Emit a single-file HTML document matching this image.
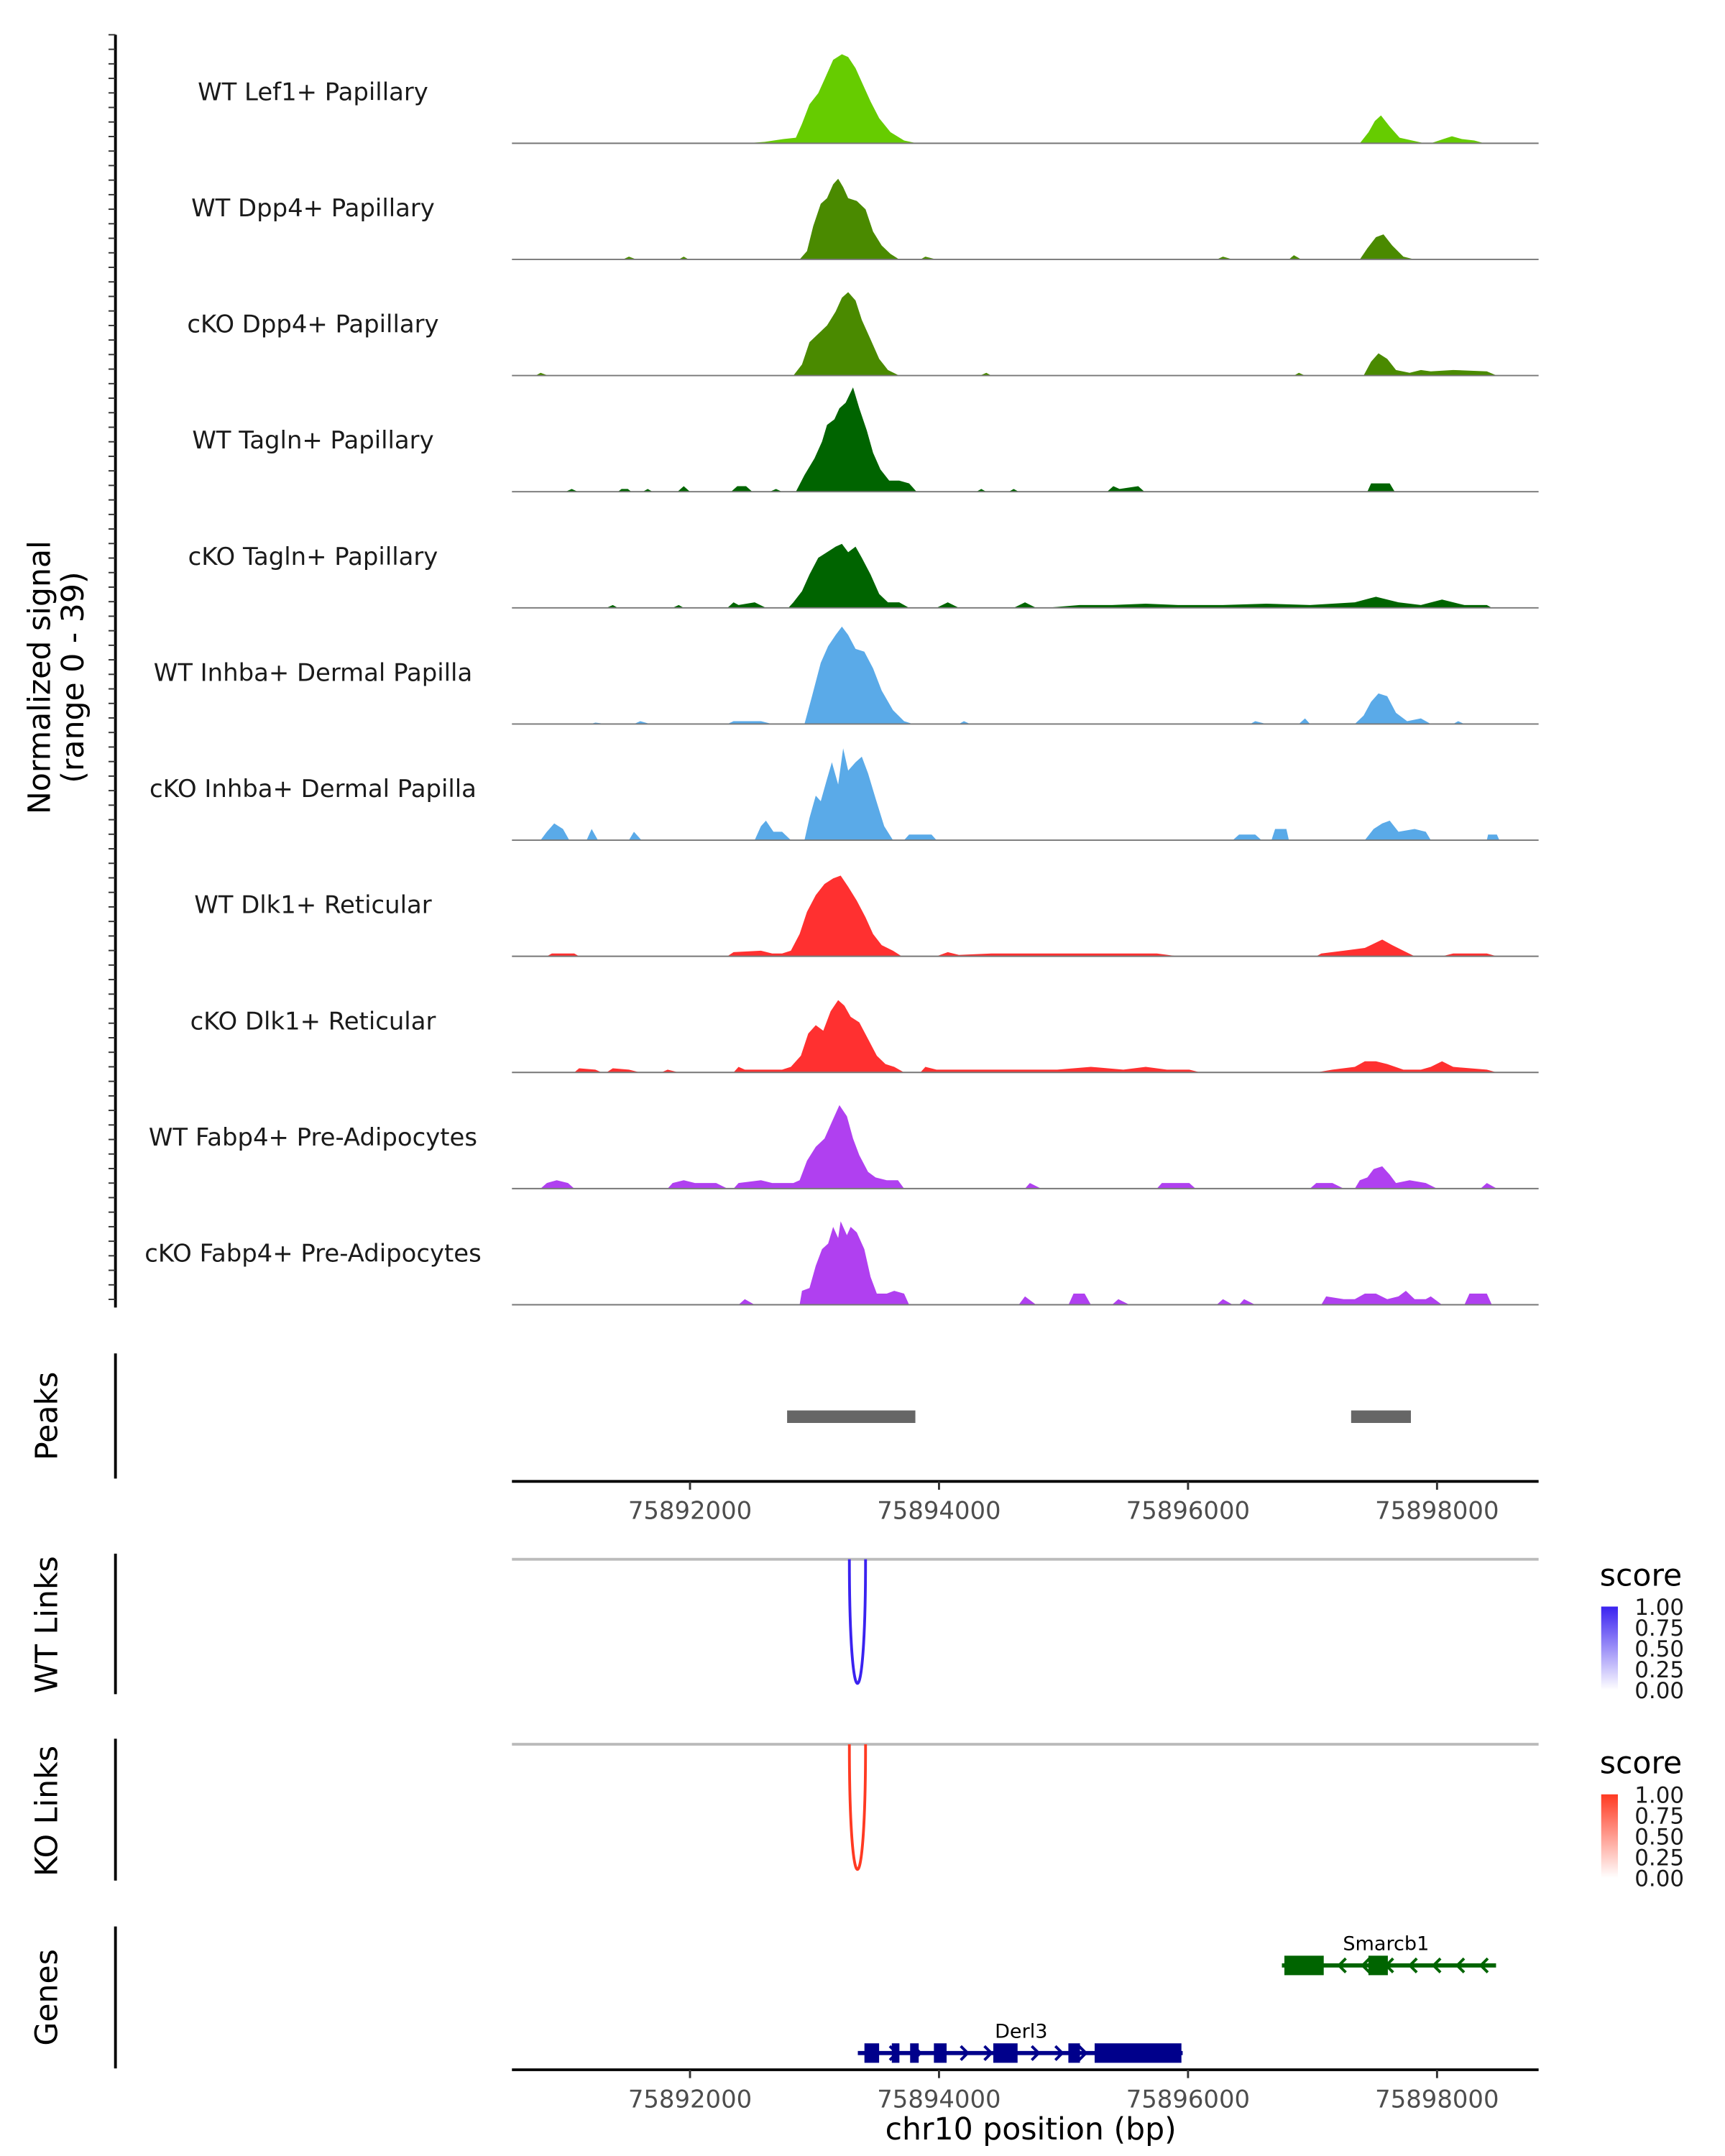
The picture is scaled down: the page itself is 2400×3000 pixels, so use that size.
<!DOCTYPE html>
<html><head><meta charset="utf-8"><style>
html,body{margin:0;padding:0;background:#fff;}
svg{display:block;font-family:"DejaVu Sans","Liberation Sans",sans-serif;}
</style></head><body>
<svg id="chart" width="2400" height="3000" viewBox="0 0 1240 1550" xmlns="http://www.w3.org/2000/svg">
<rect width="1240" height="1550" fill="#fff"/>
<g id="tracks"></g>
<g id="rest"></g>
</svg>
<script>
// genomic positions as kb offset from 75890000
const trackLabels = ["WT Lef1+ Papillary","WT Dpp4+ Papillary","cKO Dpp4+ Papillary","WT Tagln+ Papillary","cKO Tagln+ Papillary","WT Inhba+ Dermal Papilla","cKO Inhba+ Dermal Papilla","WT Dlk1+ Reticular","cKO Dlk1+ Reticular","WT Fabp4+ Pre-Adipocytes","cKO Fabp4+ Pre-Adipocytes"];
const trackColors = ["#66cc00","#4a8a00","#4a8a00","#006400","#006400","#5aaae8","#5aaae8","#ff3030","#ff3030","#b040f0","#b040f0"];
const sig0 = [[2.45,0],[2.6,0.5],[2.75,1.5],[2.85,2],[2.9,7],[2.96,14],[3.03,18],[3.08,23],[3.15,30],[3.22,32],[3.27,31],[3.33,27],[3.38,22],[3.45,15],[3.52,9],[3.61,4],[3.72,1],[3.82,0],[7.38,0],[7.45,4],[7.5,8],[7.55,10],[7.62,6],[7.7,2],[7.8,1],[7.9,0],[7.95,0],[8.05,1.5],[8.12,2.5],[8.2,1.5],[8.3,1],[8.38,0]];
const sig1 = [[1.46,0],[1.51,1],[1.57,0],[1.91,0],[1.95,1],[1.99,0],[2.88,0],[2.94,3],[2.99,12],[3.05,20],[3.10,22],[3.15,27],[3.19,29],[3.23,26],[3.27,22],[3.34,21],[3.41,18],[3.47,10],[3.54,5],[3.61,2],[3.68,0],[3.85,0],[3.89,1],[3.98,0],[6.23,0],[6.28,1],[6.36,0],[6.81,0],[6.85,1.5],[6.91,0],[7.38,0],[7.44,4],[7.51,8],[7.57,9],[7.64,5],[7.73,1],[7.82,0]];
const sig2 = [[0.76,0],[0.80,1],[0.86,0],[2.83,0],[2.90,4],[2.96,12],[3.03,15],[3.10,18],[3.17,23],[3.22,28],[3.27,30],[3.33,27],[3.38,20],[3.45,13],[3.52,6],[3.59,2],[3.68,0],[4.33,0],[4.38,1],[4.42,0],[6.85,0],[6.89,1],[6.94,0],[7.41,0],[7.47,5],[7.53,8],[7.60,6],[7.67,2],[7.78,1],[7.87,2],[7.95,1.5],[8.13,2],[8.40,1.5],[8.48,0]];
const sig3 = [[1.0,0],[1.05,1],[1.1,0],[1.42,0],[1.45,1],[1.5,1],[1.53,0],[1.62,0],[1.66,1],[1.7,0],[1.9,0],[1.95,2],[2.0,0],[2.33,0],[2.38,2],[2.45,2],[2.5,0],[2.64,0],[2.69,1],[2.74,0],[2.85,0],[2.92,6],[3.0,12],[3.06,18],[3.1,24],[3.16,26],[3.2,30],[3.25,32],[3.31,37.5],[3.36,30],[3.42,22],[3.47,14],[3.53,8],[3.6,4],[3.68,4],[3.76,3],[3.82,0],[4.3,0],[4.34,1],[4.38,0],[4.56,0],[4.6,1],[4.64,0],[5.35,0],[5.4,2],[5.45,1],[5.6,2],[5.65,0],[7.44,0],[7.47,3],[7.62,3],[7.66,0]];
const sig4 = [[1.33,0],[1.38,1],[1.42,0],[1.86,0],[1.91,1],[1.95,0],[2.30,0],[2.35,2],[2.39,1],[2.52,2],[2.61,0],[2.79,0],[2.83,2],[2.90,6],[2.96,12],[3.03,18],[3.10,20],[3.17,22],[3.22,23],[3.27,20],[3.33,22],[3.38,18],[3.45,12],[3.52,5],[3.59,2],[3.68,2],[3.76,0],[3.98,0],[4.07,2],[4.16,0],[4.60,0],[4.69,2],[4.78,0],[4.86,0],[5.13,1],[5.39,1],[5.66,1.5],[5.92,1],[6.28,1],[6.63,1.5],[6.98,1],[7.34,2],[7.51,4],[7.69,2],[7.87,1],[8.04,3],[8.22,1],[8.40,1],[8.44,0]];
const sig5 = [[1.20,0],[1.24,0.5],[1.33,0],[1.55,0],[1.60,1],[1.68,0],[2.30,0],[2.35,1],[2.57,1],[2.66,0],[2.92,0],[2.98,10],[3.05,22],[3.11,28],[3.17,32],[3.22,35],[3.27,32],[3.33,27],[3.40,26],[3.47,20],[3.54,12],[3.63,5],[3.72,1],[3.79,0],[4.16,0],[4.20,1],[4.25,0],[6.50,0],[6.54,1],[6.63,0],[6.89,0],[6.94,2],[6.98,0],[7.34,0],[7.41,3],[7.47,8],[7.53,11],[7.60,10],[7.67,4],[7.76,1],[7.87,2],[7.95,0],[8.13,0],[8.17,1],[8.22,0]];
const sig6 = [[0.80,0],[0.85,3],[0.91,6],[0.98,4],[1.03,0],[1.17,0],[1.21,4],[1.26,0],[1.51,0],[1.55,3],[1.61,0],[2.52,0],[2.57,5],[2.61,7],[2.67,3],[2.74,3],[2.81,0],[2.92,0],[2.96,8],[3.01,16],[3.05,14],[3.10,22],[3.14,28],[3.19,20],[3.23,33],[3.27,25],[3.33,28],[3.38,30],[3.43,24],[3.49,15],[3.56,5],[3.63,0],[3.72,0],[3.76,2],[3.94,2],[3.98,0],[6.36,0],[6.41,2],[6.54,2],[6.59,0],[6.67,0],[6.70,4],[6.79,4],[6.81,0],[7.42,0],[7.49,4],[7.56,6],[7.62,7],[7.69,3],[7.82,4],[7.91,3],[7.95,0],[8.40,0],[8.41,2],[8.48,2],[8.50,0]];
const sig7 = [[0.85,0],[0.89,1],[1.07,1],[1.11,0],[2.30,0],[2.35,1.5],[2.57,2],[2.66,1],[2.74,1],[2.81,2],[2.88,8],[2.94,16],[3.01,22],[3.08,26],[3.15,28],[3.21,29],[3.27,25],[3.34,20],[3.41,14],[3.47,8],[3.54,4],[3.63,2],[3.70,0],[3.98,0],[4.07,1.5],[4.16,0.5],[4.42,1],[4.69,1],[4.95,1],[5.22,1],[5.48,1],[5.75,1],[5.92,0],[7.03,0],[7.07,1],[7.25,2],[7.42,3],[7.56,6],[7.64,4],[7.73,2],[7.82,0],[8.04,0],[8.13,1],[8.40,1],[8.48,0]];
const sig8 = [[1.07,0],[1.11,1.5],[1.24,1],[1.29,0],[1.33,0],[1.38,1.5],[1.51,1],[1.60,0],[1.77,0],[1.82,1],[1.91,0],[2.35,0],[2.39,2],[2.44,1],[2.74,1],[2.81,2],[2.89,6],[2.95,14],[3.01,17],[3.07,15],[3.13,22],[3.19,26],[3.24,24],[3.29,20],[3.36,18],[3.43,12],[3.50,6],[3.57,3],[3.64,2],[3.72,0],[3.85,0],[3.89,2],[3.98,1],[4.16,1],[4.42,1],[4.69,1],[4.95,1],[5.22,2],[5.48,1],[5.66,2],[5.83,1],[6.01,1],[6.10,0],[7.03,0],[7.16,1],[7.34,2],[7.42,4],[7.51,4],[7.60,3],[7.73,1],[7.87,1],[7.95,2],[8.04,4],[8.13,2],[8.40,1],[8.48,0]];
const sig9 = [[0.80,0],[0.85,2],[0.93,3],[1.02,2],[1.07,0],[1.82,0],[1.86,2],[1.95,3],[2.04,2],[2.21,2],[2.30,0],[2.35,0],[2.39,2],[2.57,3],[2.66,2],[2.83,2],[2.88,3],[2.94,10],[3.01,15],[3.08,18],[3.14,24],[3.20,30],[3.26,26],[3.31,18],[3.36,12],[3.43,6],[3.49,4],[3.58,3],[3.67,3],[3.72,0],[4.69,0],[4.73,2],[4.82,0],[5.75,0],[5.79,2],[6.01,2],[6.06,0],[6.98,0],[7.03,2],[7.16,2],[7.25,0],[7.34,0],[7.38,3],[7.44,4],[7.49,7],[7.56,8],[7.62,5],[7.67,2],[7.78,3],[7.91,2],[8.00,0],[8.35,0],[8.40,2],[8.48,0]];
const sig10 = [[2.39,0],[2.44,2],[2.52,0],[2.88,0],[2.90,5],[2.96,6],[3.01,14],[3.06,20],[3.11,22],[3.15,28],[3.19,24],[3.21,30],[3.26,25],[3.29,28],[3.34,26],[3.40,20],[3.45,10],[3.50,4],[3.58,4],[3.64,5],[3.72,4],[3.76,0],[4.64,0],[4.69,3],[4.78,0],[5.04,0],[5.08,4],[5.17,4],[5.22,0],[5.39,0],[5.44,2],[5.53,0],[6.23,0],[6.28,2],[6.36,0],[6.41,0],[6.45,2],[6.54,0],[7.07,0],[7.11,3],[7.25,2],[7.34,2],[7.42,4],[7.51,4],[7.60,2],[7.69,3],[7.75,5],[7.82,2],[7.91,2],[7.95,3],[8.04,0],[8.22,0],[8.26,4],[8.40,4],[8.44,0]];
const signals = [sig0,sig1,sig2,sig3,sig4,sig5,sig6,sig7,sig8,sig9,sig10];
const xTicks = [2,4,6,8];           // kb offsets
const xTickLabels = ["75892000","75894000","75896000","75898000"];
const peakStarts = [2.78,7.31];
const peakEnds = [3.81,7.79];
const derl3Exons = [[3.401,3.519],[3.621,3.682],[3.768,3.837],[3.959,4.061],[4.436,4.631],[5.039,5.132],[5.25,5.947]];
const derl3Span = [3.348,5.957];
const smarcb1Exons = [[6.774,7.09],[7.449,7.605]];
const smarcb1Span = [6.754,8.474];
const linkStart = [3.28,3.28];
const linkEnd = [3.41,3.41];
const legendTicks = ["1.00","0.75","0.50","0.25","0.00"];
const yMax = 39;

const NS="http://www.w3.org/2000/svg";
const X0=317, PXKB=89.5, XL=368, XR=1106;
const x = kb => X0 + kb*PXKB;
const TOP=25, TH=83.5, B0=103;
const yv = v => v/yMax*78;
function mk(tag, attrs, parent){const e=document.createElementNS(NS,tag);for(const k in attrs)e.setAttribute(k,attrs[k]);parent.appendChild(e);return e;}
const T=document.getElementById('tracks'), R=document.getElementById('rest');

let ax=mk('line',{x1:83,y1:TOP,x2:83,y2:940,stroke:'#000','stroke-width':2},T);


for(let y=TOP;y<=940;y+=10.45){const t=mk('line',{x1:78,y1:y,x2:83,y2:y,stroke:'#333','stroke-width':1},T);

}
let yt=mk('text',{x:0,y:0,'font-size':22,'text-anchor':'middle',transform:'translate(42,487) rotate(-90)',fill:'#000'},T);


yt.innerHTML='<tspan x="0" dy="-6">Normalized signal</tspan><tspan x="0" dy="24">(range 0 - 39)</tspan>';

signals.forEach((pts,i)=>{
  const base=B0+i*TH;
  const g=mk('g',{},T);
  
  
  let d='M'+XL+','+base;
  pts.forEach(p=>{d+=' L'+x(p[0]).toFixed(1)+','+(base-yv(p[1])).toFixed(1);});
  d+=' L'+XR+','+base+' Z';
  const a=mk('path',{d:d,fill:trackColors[i]},g);
  
  
  const bl=mk('line',{x1:XL,y1:base,x2:XR,y2:base,stroke:'#777','stroke-width':1},g);
  
  
  const lb=mk('text',{x:225,y:base-31,'font-size':17.5,'text-anchor':'middle',fill:'#1a1a1a'},g);
  
  
  lb.textContent=trackLabels[i];
});

function panelAxis(y1,y2,label,cy){
  const l=mk('line',{x1:83,y1:y1,x2:83,y2:y2,stroke:'#000','stroke-width':2},R);
  
  
  const t=mk('text',{x:0,y:0,'font-size':22,'text-anchor':'middle',transform:`translate(41,${cy}) rotate(-90)`,fill:'#000'},R);
  
  
  t.textContent=label;
}
function xAxis(y){
  const l=mk('line',{x1:XL,y1:y,x2:XR,y2:y,stroke:'#000','stroke-width':2},R);
  
  
  xTicks.forEach((k,i)=>{
    const t=mk('line',{x1:x(k),y1:y,x2:x(k),y2:y+6,stroke:'#333','stroke-width':1.5},R);
    
    
    const tl=mk('text',{x:x(k),y:y+27,'font-size':17.5,'text-anchor':'middle',fill:'#4d4d4d'},R);
    
    
    tl.textContent=xTickLabels[i];
  });
}
panelAxis(973,1063,'Peaks',1018);
peakStarts.forEach((s,i)=>{
  const r=mk('rect',{x:x(s),y:1014,width:x(peakEnds[i])-x(s),height:9,fill:'#666'},R);
  
  
});
xAxis(1065);

function linkPanel(top,bot,label,color,cy,gradId,legTop){
  panelAxis(top-4,bot,label,cy);
  const gl=mk('line',{x1:XL,y1:top,x2:XR,y2:top,stroke:'#bbb','stroke-width':2},R);
  
  
  const a=x(linkStart[0]), b=x(linkEnd[0]), depth=bot-3;
  const p=mk('path',{d:`M${a},${top} C${a},${depth+25} ${b},${depth+25} ${b},${top}`,fill:'none',stroke:color,'stroke-width':2},R);
  
  
  const lt=mk('text',{x:1150,y:legTop-15,'font-size':22,fill:'#000'},R);
  
  
  lt.textContent='score';
  const defs=mk('defs',{},R);
  const gr=mk('linearGradient',{id:gradId,x1:0,y1:0,x2:0,y2:1},defs);
  mk('stop',{offset:0,'stop-color':color},gr);
  mk('stop',{offset:1,'stop-color':'#fff'},gr);
  const cb=mk('rect',{x:1151,y:legTop,width:12,height:60,fill:`url(#${gradId})`},R);
  
  
  legendTicks.forEach((t,i)=>{
    const tx=mk('text',{x:1175,y:legTop+i*15+6,'font-size':16,fill:'#1a1a1a'},R);
    
    
    tx.textContent=t;
  });
}
linkPanel(1121,1218,'WT Links','#3a22f0',1168,'gBlue',1155);
linkPanel(1254,1352,'KO Links','#ff3a22',1302,'gRed',1290);

panelAxis(1385,1487,'Genes',1436);
function gene(span,exons,y,color,name,labelKb,dir){
  const g=mk('g',{},R);
  
  
  mk('line',{x1:x(span[0]),y1:y,x2:x(span[1]),y2:y,stroke:color,'stroke-width':3},g);
  for(let k=span[0]+0.1;k<span[1]-0.03;k+=0.19){
    const xx=x(k);
    const d=dir>0?`M${xx-3},${y-5} L${xx+2},${y} L${xx-3},${y+5}`:`M${xx+3},${y-5} L${xx-2},${y} L${xx+3},${y+5}`;
    mk('path',{d:d,fill:'none',stroke:color,'stroke-width':2},g);
  }
  exons.forEach(e=>{
    const r=mk('rect',{x:x(e[0]),y:y-7,width:x(e[1])-x(e[0]),height:14,fill:color},g);
    
    
  });
  const t=mk('text',{x:x(labelKb),y:y-11,'font-size':14,'text-anchor':'middle',fill:'#000'},g);
  
  
  t.textContent=name;
}
gene(smarcb1Span,smarcb1Exons,1413,'#006400','Smarcb1',7.59,-1);
gene(derl3Span,derl3Exons,1476,'#00008b','Derl3',4.66,1);
xAxis(1488);
const xt=mk('text',{x:741,y:1538,'font-size':22,'text-anchor':'middle',fill:'#000'},R);


xt.textContent='chr10 position (bp)';
</script>
</body></html>
